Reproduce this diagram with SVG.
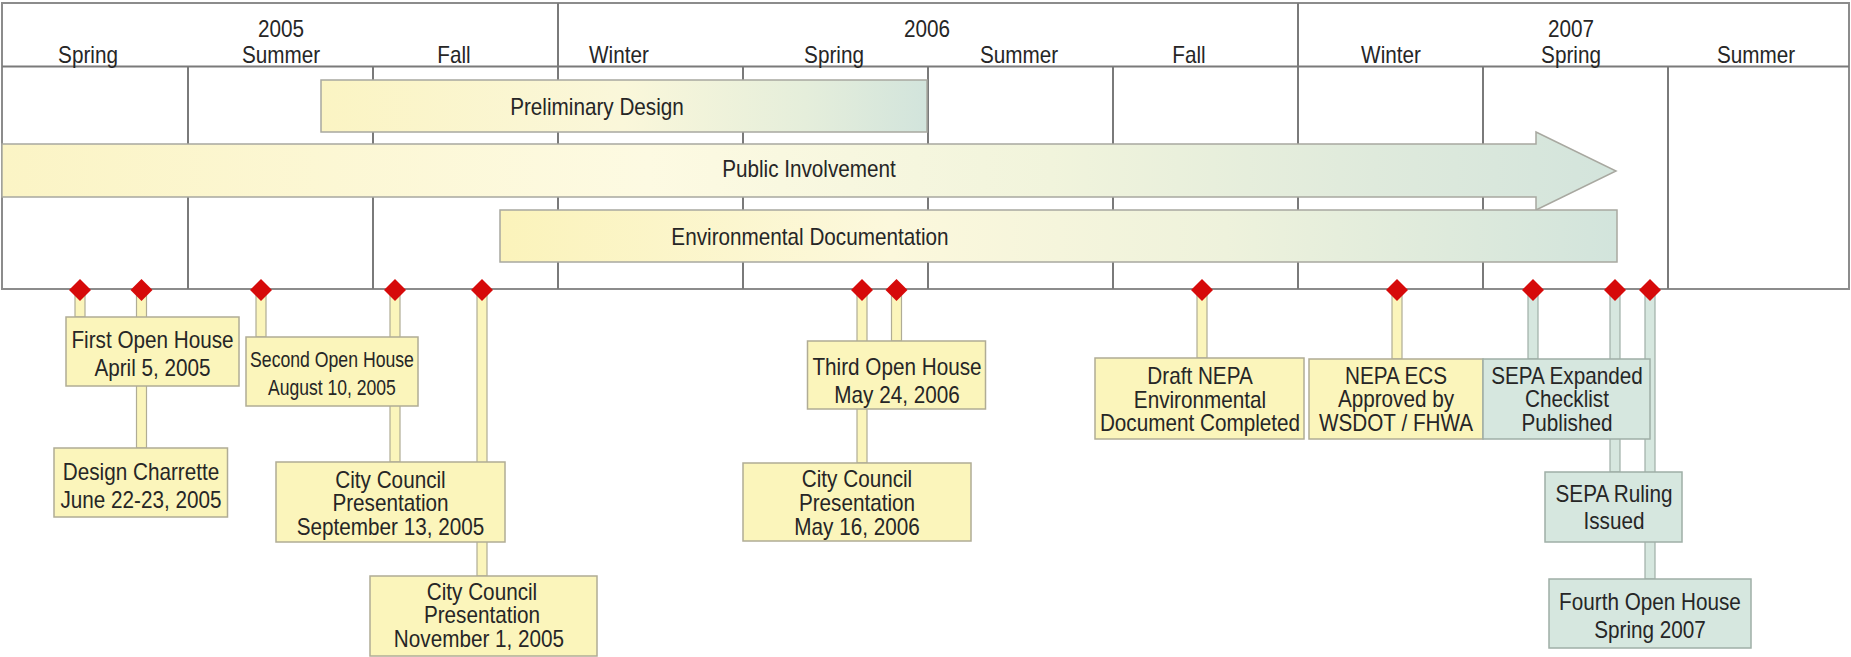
<svg xmlns="http://www.w3.org/2000/svg" width="1851" height="657" viewBox="0 0 1851 657">
<style>
text{font-family:"Liberation Sans",Arial,sans-serif;font-size:23px;fill:#262626;text-anchor:middle;transform-box:fill-box;transform-origin:center;transform:scaleX(0.9)}
text.sm{font-size:21.5px}
.grid{stroke:#7a7a7a;stroke-width:2;fill:none}
.border{stroke:#8c8c8c;stroke-width:2;fill:#fff}
.bar{stroke:#a8a8a0;stroke-width:1.5}
.ybox{fill:#fbf5bb;stroke:#b0ac95;stroke-width:1.5}
.gbox{fill:#d6e7df;stroke:#9fafa7;stroke-width:1.5}
.ystem{fill:#fbf5bb;stroke:#b0ac95;stroke-width:1.2}
.gstem{fill:#d6e7df;stroke:#9fafa7;stroke-width:1.2}
.dia{fill:#d60a0a}
</style>
<defs>
<linearGradient id="gPrelim" x1="0" y1="0" x2="1" y2="0">
<stop offset="0" stop-color="#fbf4c3"/><stop offset="0.5" stop-color="#faf7da"/><stop offset="0.8" stop-color="#e5eedb"/><stop offset="1" stop-color="#d2e4dc"/>
</linearGradient>
<linearGradient id="gPI" x1="0" y1="0" x2="1" y2="0">
<stop offset="0" stop-color="#fbf4c5"/><stop offset="0.4" stop-color="#fdfae2"/><stop offset="0.65" stop-color="#f1f4dc"/><stop offset="0.85" stop-color="#dfeadc"/><stop offset="1" stop-color="#d3e4dc"/>
</linearGradient>
<linearGradient id="gEnv" x1="0" y1="0" x2="1" y2="0">
<stop offset="0" stop-color="#fbf3bb"/><stop offset="0.35" stop-color="#fcf8dc"/><stop offset="0.65" stop-color="#eef2dc"/><stop offset="1" stop-color="#d2e4dc"/>
</linearGradient>
<path id="dm" d="M0,-11 L11,0 L0,11 L-11,0 Z"/>
</defs>

<g id="timeline-grid">
<rect class="border" x="2" y="3" width="1847" height="286"/>
<line class="grid" x1="2" y1="66.5" x2="1849" y2="66.5"/>
<line class="grid" x1="558" y1="3" x2="558" y2="289"/>
<line class="grid" x1="1298" y1="3" x2="1298" y2="289"/>
<line class="grid" x1="188" y1="66.5" x2="188" y2="289"/>
<line class="grid" x1="373" y1="66.5" x2="373" y2="289"/>
<line class="grid" x1="743" y1="66.5" x2="743" y2="289"/>
<line class="grid" x1="928" y1="66.5" x2="928" y2="289"/>
<line class="grid" x1="1113" y1="66.5" x2="1113" y2="289"/>
<line class="grid" x1="1483" y1="66.5" x2="1483" y2="289"/>
<line class="grid" x1="1668" y1="66.5" x2="1668" y2="289"/>
<text x="281" y="37">2005</text>
<text x="927" y="37">2006</text>
<text x="1571" y="37">2007</text>
<text x="88" y="63">Spring</text>
<text x="281" y="63">Summer</text>
<text x="454" y="63">Fall</text>
<text x="619" y="63">Winter</text>
<text x="834" y="63">Spring</text>
<text x="1019" y="63">Summer</text>
<text x="1189" y="63">Fall</text>
<text x="1391" y="63">Winter</text>
<text x="1571" y="63">Spring</text>
<text x="1756" y="63">Summer</text>
</g>

<g id="preliminary-design">
<rect class="bar" x="321" y="80" width="606" height="52" fill="url(#gPrelim)"/>
<text x="597" y="115">Preliminary Design</text>
</g>
<g id="public-involvement">
<path class="bar" d="M2,144 H1536 V132 L1616,171 L1536,210 V197 H2 Z" fill="url(#gPI)"/>
<text x="809" y="177">Public Involvement</text>
</g>
<g id="environmental-documentation">
<rect class="bar" x="500" y="210" width="1117" height="52" fill="url(#gEnv)"/>
<text x="810" y="245">Environmental Documentation</text>
</g>

<g id="connectors">
<rect class="ystem" x="75" y="290" width="10" height="27"/>
<rect class="ystem" x="136.5" y="290" width="10" height="158"/>
<rect class="ystem" x="256" y="290" width="10" height="47"/>
<rect class="ystem" x="390" y="290" width="10" height="172"/>
<rect class="ystem" x="477" y="290" width="10" height="286"/>
<rect class="ystem" x="857" y="290" width="10" height="173"/>
<rect class="ystem" x="891.5" y="290" width="10" height="51"/>
<rect class="ystem" x="1197" y="290" width="10" height="68"/>
<rect class="ystem" x="1392" y="290" width="10" height="69"/>
<rect class="gstem" x="1528" y="290" width="10" height="69"/>
<rect class="gstem" x="1610" y="290" width="10" height="182"/>
<rect class="gstem" x="1645" y="290" width="10" height="289"/>
</g>

<g id="milestones">
<use href="#dm" class="dia" x="80" y="290"/>
<use href="#dm" class="dia" x="141.5" y="290"/>
<use href="#dm" class="dia" x="261" y="290"/>
<use href="#dm" class="dia" x="395" y="290"/>
<use href="#dm" class="dia" x="482" y="290"/>
<use href="#dm" class="dia" x="862" y="290"/>
<use href="#dm" class="dia" x="896.5" y="290"/>
<use href="#dm" class="dia" x="1202" y="290"/>
<use href="#dm" class="dia" x="1397" y="290"/>
<use href="#dm" class="dia" x="1533" y="290"/>
<use href="#dm" class="dia" x="1615" y="290"/>
<use href="#dm" class="dia" x="1650" y="290"/>
</g>

<g id="first-open-house">
<rect class="ybox" x="66" y="317" width="173" height="69"/>
<text x="152.5" y="348">First Open House</text>
<text x="152.5" y="376">April 5, 2005</text>
</g>
<g id="design-charrette">
<rect class="ybox" x="54" y="448" width="173.5" height="69"/>
<text x="141" y="480">Design Charrette</text>
<text x="141" y="508">June 22-23, 2005</text>
</g>
<g id="second-open-house">
<rect class="ybox" x="246" y="337" width="172" height="69"/>
<text class="sm" x="332" y="367" textLength="182" lengthAdjust="spacingAndGlyphs">Second Open House</text>
<text class="sm" x="332" y="395" textLength="142" lengthAdjust="spacingAndGlyphs">August 10, 2005</text>
</g>
<g id="city-council-sep">
<rect class="ybox" x="276" y="462" width="229" height="80"/>
<text x="390.5" y="488">City Council</text>
<text x="390.5" y="511.5">Presentation</text>
<text x="390.5" y="535">September 13, 2005</text>
</g>
<g id="city-council-nov">
<rect class="ybox" x="370" y="576" width="227" height="80"/>
<text x="482" y="600">City Council</text>
<text x="482" y="623.5">Presentation</text>
<text x="479" y="647">November 1, 2005</text>
</g>
<g id="third-open-house">
<rect class="ybox" x="807.5" y="341" width="178" height="68"/>
<text x="897" y="375">Third Open House</text>
<text x="897" y="403">May 24, 2006</text>
</g>
<g id="city-council-may">
<rect class="ybox" x="743" y="463" width="228" height="78"/>
<text x="857" y="487">City Council</text>
<text x="857" y="511">Presentation</text>
<text x="857" y="535">May 16, 2006</text>
</g>
<g id="draft-nepa">
<rect class="ybox" x="1095" y="358" width="209" height="81"/>
<text x="1200" y="384">Draft NEPA</text>
<text x="1200" y="408">Environmental</text>
<text x="1200" y="431.5">Document Completed</text>
</g>
<g id="nepa-ecs">
<rect class="ybox" x="1309" y="359" width="174" height="80"/>
<text x="1396" y="384">NEPA ECS</text>
<text x="1396" y="407.5">Approved by</text>
<text x="1396" y="431">WSDOT / FHWA</text>
</g>
<g id="sepa-expanded">
<rect class="gbox" x="1483" y="359" width="167" height="80"/>
<text x="1567" y="384">SEPA Expanded</text>
<text x="1567" y="407.5">Checklist</text>
<text x="1567" y="431">Published</text>
</g>
<g id="sepa-ruling">
<rect class="gbox" x="1545" y="472" width="137" height="70"/>
<text x="1614" y="502">SEPA Ruling</text>
<text x="1614" y="529">Issued</text>
</g>
<g id="fourth-open-house">
<rect class="gbox" x="1549" y="579" width="202" height="69"/>
<text x="1650" y="610">Fourth Open House</text>
<text x="1650" y="638">Spring 2007</text>
</g>
</svg>
